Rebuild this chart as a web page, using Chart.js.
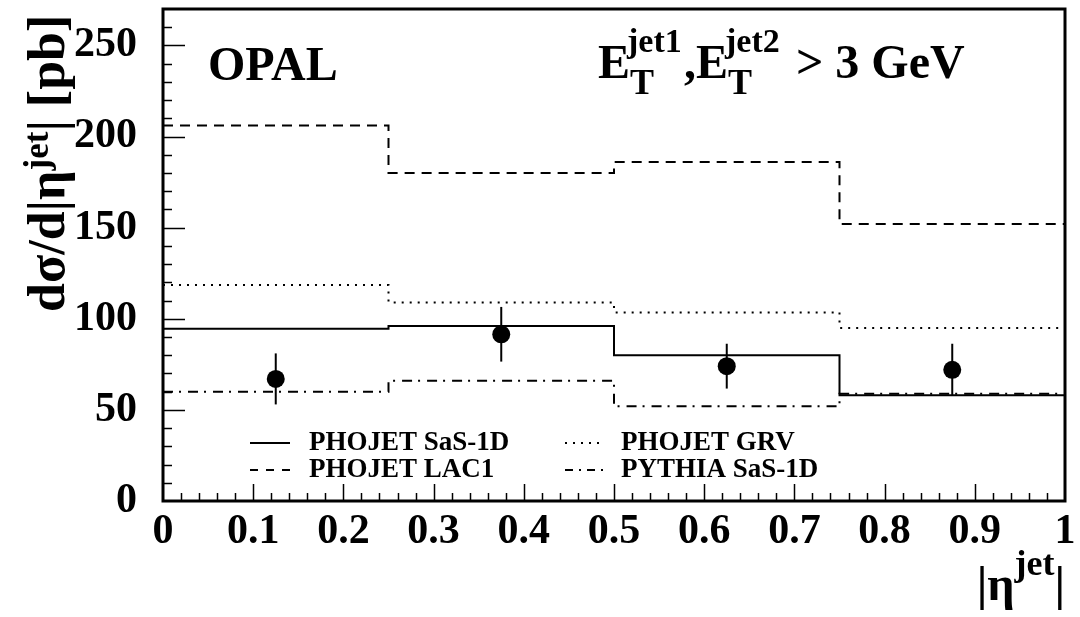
<!DOCTYPE html>
<html>
<head>
<meta charset="utf-8">
<script src="https://cdn.jsdelivr.net/npm/chart.js@4/dist/chart.umd.min.js"></script>
<style>
  html, body { margin: 0; padding: 0; background: #fff; }
  #wrap { width: 1080px; height: 617px; }
</style>
</head>
<body>
<div id="wrap"><canvas id="c" width="1080" height="617"></canvas></div>
<script>
// |eta^jet| bin edges (four bins) and model predictions per bin [pb]
const binEdges   = [0, 0.25, 0.5, 0.75, 1];
const phojetSas  = [94.5, 96, 80, 58];
const phojetLac1 = [206, 180, 186, 152];
const phojetGrv  = [118.5, 109, 103.5, 95];
const pythiaSas  = [60, 66, 52, 58.8];

// OPAL measurement: bin centres, values and total errors
const dataX   = [0.125, 0.375, 0.625, 0.875];
const dataY   = [67, 91.5, 74, 72];
const dataErr = [14, 15, 12.3, 14.3];

// axis tick labels
const xTicks = [0, 0.1, 0.2, 0.3, 0.4, 0.5, 0.6, 0.7, 0.8, 0.9, 1];
const yTicks = [0, 50, 100, 150, 200, 250];

const SERIF = '"Liberation Serif", "Times New Roman", serif';

// histogram outline: each edge carries the value of the bin to its right
function histPoints(vals) {
  return binEdges.map((x, i) => ({ x: x, y: vals[Math.min(i, vals.length - 1)] }));
}

const DASH = [10, 7];
const DOT = [2, 6];
const DASHDOT = [10, 6, 2, 7];

function histDataset(label, vals, dash) {
  return {
    label: label,
    data: histPoints(vals),
    showLine: true,
    stepped: 'before',
    borderColor: '#000',
    borderWidth: 2,
    borderDash: dash,
    pointRadius: 0,
    fill: false
  };
}

// draw a run of text pieces with sizes and vertical shifts
function drawPieces(ctx, pieces, x, y) {
  let cx = x;
  for (const p of pieces) {
    ctx.font = 'bold ' + p.size + 'px ' + SERIF;
    if (p.x !== undefined) cx = x + p.x;
    ctx.fillText(p.t, cx, y + (p.dy || 0));
    if (!p.noAdvance) cx += ctx.measureText(p.t).width;
  }
  return cx;
}

const decorations = {
  id: 'decorations',
  afterDatasetsDraw(chart) {
    const { ctx, scales: { x, y } } = chart;
    // error bars on the measured points
    ctx.save();
    ctx.strokeStyle = '#000';
    ctx.lineWidth = 2;
    for (let i = 0; i < dataX.length; i++) {
      const px = x.getPixelForValue(dataX[i]);
      ctx.beginPath();
      ctx.moveTo(px, y.getPixelForValue(dataY[i] - dataErr[i]));
      ctx.lineTo(px, y.getPixelForValue(dataY[i] + dataErr[i]));
      ctx.stroke();
    }
    ctx.restore();
  },
  afterDraw(chart) {
    const { ctx, chartArea: a, scales: { x, y } } = chart;
    ctx.save();
    ctx.strokeStyle = '#000';

    // inward tick marks on the left axis
    ctx.lineWidth = 1.5;
    ctx.beginPath();
    for (let v = 10; v < 270; v += 10) {
      const py = Math.round(y.getPixelForValue(v)) + 0.5;
      const len = (v % 50 === 0) ? 22 : 9;
      ctx.moveTo(a.left, py);
      ctx.lineTo(a.left + len, py);
    }
    // inward tick marks on the bottom axis
    for (let k = 1; k < 50; k++) {
      const px = Math.round(x.getPixelForValue(k / 50)) + 0.5;
      const len = (k % 5 === 0) ? 17 : 8;
      ctx.moveTo(px, a.bottom);
      ctx.lineTo(px, a.bottom - len);
    }
    ctx.stroke();

    // frame
    ctx.lineWidth = 3;
    ctx.strokeRect(a.left, a.top, a.right - a.left, a.bottom - a.top);

    ctx.fillStyle = '#000';
    ctx.textBaseline = 'alphabetic';
    ctx.textAlign = 'left';

    // experiment label and cut
    drawPieces(ctx, [{ t: 'OPAL', size: 48 }], 208, 80);
    drawPieces(ctx, [
      { t: 'E', size: 48 },
      { t: 'jet1', size: 34, dy: -26, x: 29 },
      { t: 'T', size: 36, dy: 16, x: 32, noAdvance: true },
      { t: ',', size: 48, x: 86 },
      { t: 'E', size: 48 },
      { t: 'jet2', size: 34, dy: -26, x: 127 },
      { t: 'T', size: 36, dy: 16, x: 130, noAdvance: true },
      { t: ' > 3 GeV', size: 48, x: 186 }
    ], 598, 78);

    // legend
    const rows = [
      { label: 'PHOJET SaS-1D', dash: [], lx: 250, tx: 309, by: 450 },
      { label: 'PHOJET LAC1', dash: [8, 8], lx: 250, tx: 309, by: 477 },
      { label: 'PHOJET GRV', dash: DOT, lx: 565, tx: 621, by: 450 },
      { label: 'PYTHIA SaS-1D', dash: [8, 6, 2, 6], lx: 565, tx: 621, by: 477 }
    ];
    for (const r of rows) {
      ctx.lineWidth = 2;
      ctx.setLineDash(r.dash);
      ctx.beginPath();
      ctx.moveTo(r.lx, r.by - 7);
      ctx.lineTo(r.lx + 40, r.by - 7);
      ctx.stroke();
      ctx.setLineDash([]);
      ctx.font = 'bold 27px ' + SERIF;
      ctx.fillText(r.label, r.tx, r.by);
    }

    // x-axis title, right aligned to the frame
    ctx.font = 'bold 48px ' + SERIF;
    const bar = ctx.measureText('|').width;
    const eta = ctx.measureText('\u03b7').width;
    ctx.font = 'bold 36px ' + SERIF;
    const jet = ctx.measureText('jet').width;
    const total = bar + eta + jet + bar;
    drawPieces(ctx, [
      { t: '|', size: 48 },
      { t: '\u03b7', size: 48 },
      { t: 'jet', size: 36, dy: -25 },
      { t: '|', size: 48 }
    ], a.right - total, 600);

    // y-axis title, rotated
    ctx.translate(64, 312);
    ctx.rotate(-Math.PI / 2);
    drawPieces(ctx, [
      { t: 'd\u03c3/d|\u03b7', size: 52 },
      { t: 'jet', size: 35, dy: -16 },
      { t: '| [pb]', size: 52 }
    ], 0, 0);
    ctx.restore();
  }
};

new Chart(document.getElementById('c'), {
  type: 'scatter',
  data: {
    datasets: [
      histDataset('PHOJET SaS-1D', phojetSas, []),
      histDataset('PHOJET LAC1', phojetLac1, DASH),
      histDataset('PHOJET GRV', phojetGrv, DOT),
      histDataset('PYTHIA SaS-1D', pythiaSas, DASHDOT),
      {
        label: 'OPAL',
        data: dataX.map((v, i) => ({ x: v, y: dataY[i] })),
        showLine: false,
        pointRadius: 9,
        pointBackgroundColor: '#000',
        pointBorderWidth: 0
      }
    ]
  },
  options: {
    responsive: false,
    devicePixelRatio: 1,
    animation: false,
    layout: { padding: { left: 0, top: 8, right: 15, bottom: 0 } },
    plugins: { legend: { display: false }, tooltip: { enabled: false } },
    scales: {
      x: {
        type: 'linear',
        min: 0,
        max: 1,
        afterBuildTicks: s => { s.ticks = xTicks.map(v => ({ value: v })); },
        afterFit: s => { s.height = 116; s.paddingLeft = 0; s.paddingRight = 0; },
        grid: { display: false, drawTicks: false },
        border: { display: false },
        ticks: {
          padding: 6,
          color: '#000',
          maxRotation: 0,
          autoSkip: false,
          font: { family: SERIF, size: 42, weight: 'bold' },
          callback: v => String(Math.round(v * 10) / 10)
        }
      },
      y: {
        type: 'linear',
        min: 0,
        max: 270,
        afterBuildTicks: s => { s.ticks = yTicks.map(v => ({ value: v })); },
        afterFit: s => { s.width = 163; s.paddingTop = 0; s.paddingBottom = 0; },
        grid: { display: false, drawTicks: false },
        border: { display: false },
        ticks: {
          padding: 26,
          color: '#000',
          autoSkip: false,
          font: { family: SERIF, size: 42, weight: 'bold' },
          callback: v => String(v)
        }
      }
    }
  },
  plugins: [decorations]
});
</script>
</body>
</html>
